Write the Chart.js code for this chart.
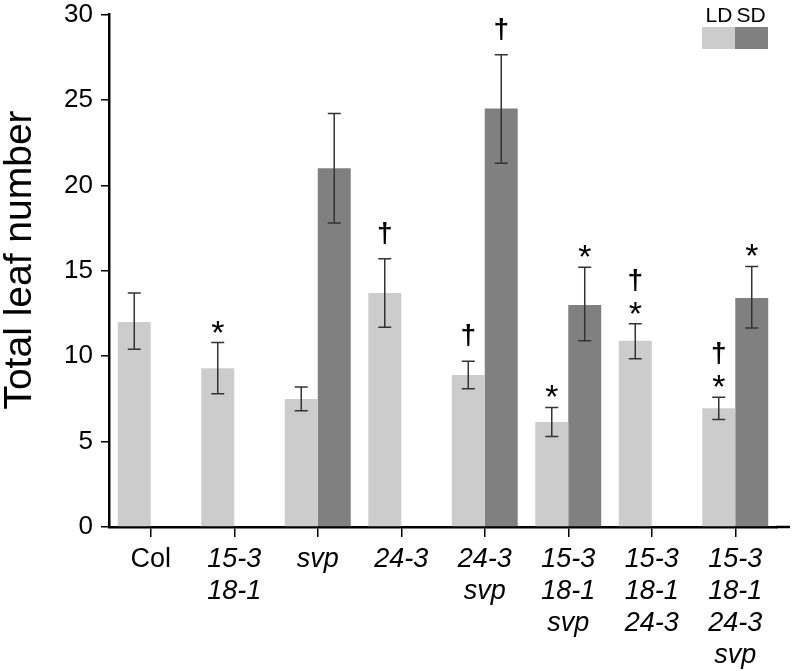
<!DOCTYPE html>
<html>
<head>
<meta charset="utf-8">
<script src="https://cdn.jsdelivr.net/npm/chart.js@4"></script>
<style>
	html, body { margin: 0; padding: 0; background: #fff; }
	#wrap { width: 793px; height: 671px; }
</style>
</head>
<body>
<div id="wrap"><canvas id="barChart"></canvas></div>
<script>
const categories = [
	['Col'],
	['15-3', '18-1'],
	['svp'],
	['24-3'],
	['24-3', 'svp'],
	['15-3', '18-1', 'svp'],
	['15-3', '18-1', '24-3'],
	['15-3', '18-1', '24-3', 'svp'],
];

const ldMean = [12.0, 9.3, 7.5, 13.7, 8.9, 6.15, 10.9, 6.95];
const ldLow = [10.4, 7.8, 6.8, 11.7, 8.1, 5.3, 9.85, 6.3];
const ldHigh = [13.7, 10.8, 8.2, 15.7, 9.7, 7.0, 11.9, 7.6];

const sdMean = [null, null, 21.0, null, 24.5, 13.0, null, 13.4];
const sdLow = [null, null, 17.8, null, 21.3, 10.9, null, 11.65];
const sdHigh = [null, null, 24.2, null, 27.65, 15.2, null, 15.25];

// marks listed bottom to top
const ldMarks = [[], ['*'], [], ['†'], ['†'], ['*'], ['*', '†'], ['*', '†']];
const sdMarks = [[], [], [], [], ['†'], ['*'], [], ['*']];

const yTicks = [0, 5, 10, 15, 20, 25, 30];
const yTitle = 'Total leaf number';

const LD_COLOR = '#cccccc';
const SD_COLOR = '#808080';
const FONT = '"Liberation Sans", Arial, sans-serif';

const errorBars = {
	id: 'errorBars',
	afterDatasetsDraw(chart) {
		const { ctx, scales: { y } } = chart;
		const sets = [
			{ lo: ldLow, hi: ldHigh, marks: ldMarks },
			{ lo: sdLow, hi: sdHigh, marks: sdMarks },
		];
		ctx.save();
		sets.forEach((s, d) => {
			const meta = chart.getDatasetMeta(d);
			meta.data.forEach((bar, i) => {
				if (s.hi[i] == null) return;
				const x = bar.x;
				const yHi = y.getPixelForValue(s.hi[i]);
				const yLo = y.getPixelForValue(s.lo[i]);
				ctx.strokeStyle = '#333';
				ctx.lineWidth = 1.5;
				ctx.beginPath();
				ctx.moveTo(x, yHi);
				ctx.lineTo(x, yLo);
				ctx.moveTo(x - 6.5, yHi);
				ctx.lineTo(x + 6.5, yHi);
				ctx.moveTo(x - 6.5, yLo);
				ctx.lineTo(x + 6.5, yLo);
				ctx.stroke();

				// significance marks
				ctx.fillStyle = '#000';
				ctx.textAlign = 'center';
				ctx.textBaseline = 'alphabetic';
				let center = null;
				s.marks[i].forEach(m => {
					if (center === null) {
						center = yHi - (m === '*' ? 18 : 25);
					} else {
						center -= 25;
					}
					if (m === '*') {
						ctx.font = `34px ${FONT}`;
						ctx.fillText(m, x, center + 19);
					} else {
						ctx.font = `bold 28px ${FONT}`;
						ctx.fillText(m, x, center + 8);
					}
				});
			});
		});
		ctx.restore();
	},
};

const extras = {
	id: 'extras',
	afterDraw(chart) {
		const { ctx, chartArea } = chart;
		ctx.save();
		// axis line runs a little past the last category
		ctx.strokeStyle = '#000';
		ctx.lineWidth = 2.5;
		ctx.beginPath();
		ctx.moveTo(chartArea.right - 1, chartArea.bottom);
		ctx.lineTo(790, chartArea.bottom);
		ctx.stroke();

		// y title
		ctx.save();
		ctx.translate(20, 260);
		ctx.rotate(-Math.PI / 2);
		ctx.fillStyle = '#000';
		ctx.font = `39px ${FONT}`;
		ctx.textAlign = 'center';
		ctx.textBaseline = 'middle';
		ctx.fillText(yTitle, 0, 0);
		ctx.restore();

		// legend
		ctx.fillStyle = LD_COLOR;
		ctx.fillRect(702, 27, 33, 22);
		ctx.fillStyle = SD_COLOR;
		ctx.fillRect(735, 27, 33, 22);
		ctx.fillStyle = '#000';
		ctx.font = `21px ${FONT}`;
		ctx.textAlign = 'center';
		ctx.textBaseline = 'alphabetic';
		ctx.fillText('LD', 719, 22);
		ctx.fillText('SD', 751, 22);
		ctx.restore();
	},
};

new Chart(document.querySelector('#barChart'), {
	type: 'bar',
	data: {
		labels: categories,
		datasets: [
			{ label: 'LD', data: ldMean, backgroundColor: LD_COLOR },
			{ label: 'SD', data: sdMean, backgroundColor: SD_COLOR },
		],
	},
	options: {
		responsive: true,
		maintainAspectRatio: false,
		animation: false,
		layout: { padding: { left: 0, right: 16, top: 13, bottom: 0 } },
		datasets: { bar: { barPercentage: 1, categoryPercentage: 0.79 } },
		plugins: { legend: { display: false }, tooltip: { enabled: false } },
		scales: {
			x: {
				grid: { offset: false, drawOnChartArea: false, drawTicks: true, tickLength: 10, color: '#000', lineWidth: 1.5 },
				border: { display: true, color: '#000', width: 2.5 },
				ticks: {
					color: '#000',
					padding: 6,
					maxRotation: 0,
					autoSkip: false,
					font: c => ({
						family: FONT,
						size: 27,
						lineHeight: 1.19,
						style: c.index === 0 ? 'normal' : 'italic',
					}),
				},
				afterFit: s => { s.height = 144; },
			},
			y: {
				min: 0,
				max: 30,
				afterBuildTicks: s => { s.ticks = yTicks.map(v => ({ value: v })); },
				grid: { drawOnChartArea: false, drawTicks: true, tickLength: 8, color: '#000', lineWidth: 1.5 },
				border: { display: true, color: '#000', width: 2.5 },
				ticks: {
					color: '#000',
					padding: 8,
					font: { family: FONT, size: 26, lineHeight: 0.5 },
				},
				afterFit: s => { s.width = 109; },
			},
		},
	},
	plugins: [errorBars, extras],
});
</script>
</body>
</html>
